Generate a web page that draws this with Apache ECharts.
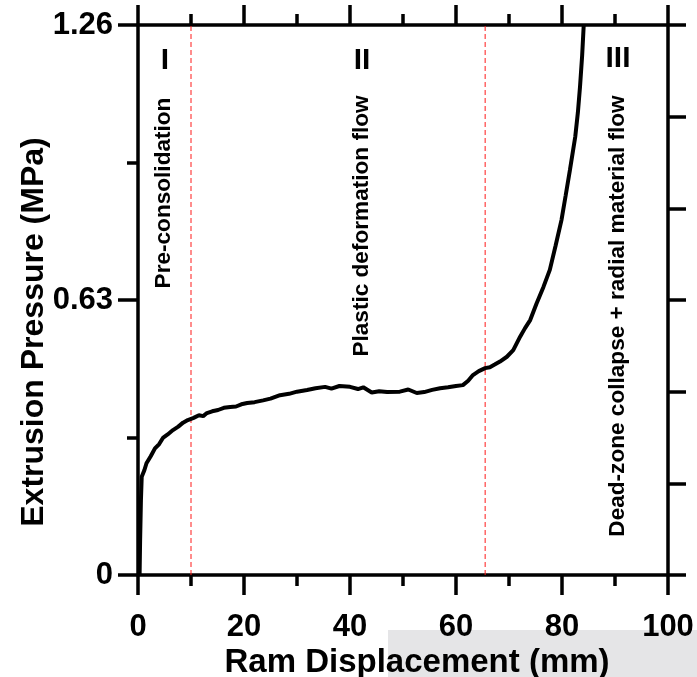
<!DOCTYPE html>
<html>
<head>
<meta charset="utf-8">
<script src="https://cdn.jsdelivr.net/npm/echarts@6/dist/echarts.min.js"></script>
<style>
  html, body { margin: 0; padding: 0; background: #fff; }
  #main { width: 697px; height: 677px; }
</style>
</head>
<body>
<div id="main"></div>
<script>
// ram displacement (mm)
var displacement = [0.3, 0.4, 0.55, 0.7, 1.2, 1.6, 2.4, 3.2, 4.0, 4.7, 5.6, 6.6, 7.6, 8.5, 9.4,
  10.5, 11.5, 12.3, 13, 14, 15.1, 16.2, 17.4, 18.5, 19.5, 20.6, 22, 23.6, 25, 26.8, 28.5, 30,
  31.9, 33.5, 35.3, 36.5, 38, 40, 41.5, 42.5, 44.1, 45.5, 47, 49.4, 51, 52.6, 54, 55.5, 57,
  58.5, 60, 61.3, 62.3, 63.2, 64.3, 65.5, 66.4, 67.3, 68.3, 69.6, 70.8, 72.1, 73, 74, 75.2,
  76.5, 77.7, 78.8, 79.9, 80.7, 81.5, 82.5, 83, 83.4, 83.8, 84.1];
// extrusion pressure (MPa)
var pressure = [0, 0.08, 0.17, 0.225, 0.24, 0.256, 0.272, 0.29, 0.30, 0.314, 0.322, 0.332, 0.34, 0.349, 0.355,
  0.36, 0.366, 0.364, 0.371, 0.375, 0.378, 0.383, 0.385, 0.386, 0.391, 0.394, 0.396, 0.40, 0.404, 0.412, 0.415, 0.42,
  0.424, 0.428, 0.431, 0.427, 0.433, 0.431, 0.426, 0.43, 0.418, 0.421, 0.419, 0.42, 0.425, 0.417, 0.419, 0.424, 0.428,
  0.43, 0.433, 0.435, 0.445, 0.458, 0.467, 0.474, 0.476, 0.482, 0.489, 0.5, 0.515, 0.546, 0.565, 0.584, 0.622,
  0.66, 0.699, 0.755, 0.813, 0.87, 0.928, 1.004, 1.06, 1.119, 1.19, 1.26];

// stage boundaries (mm)
var boundaries = [10, 65.5];
var stageNames = ['I', 'II', 'III'];
var stageTexts = ['Pre-consolidation', 'Plastic deformation flow', 'Dead-zone collapse + radial material flow'];

var xTicks = { min: 0, max: 100, interval: 20 };
var yTicks = { min: 0, max: 1.26, interval: 0.63 };

var font = 'Liberation Sans, Arial, sans-serif';
var axisCol = '#000';

var points = displacement.map(function (d, i) { return [d, pressure[i]]; });

var baseAxisLine = { show: true, onZero: false, lineStyle: { color: axisCol, width: 3.5 } };
var baseTick = { show: true, inside: false, length: 20, lineStyle: { color: axisCol, width: 3.5 } };
var baseMinor = { show: true, splitNumber: 2, length: 11, lineStyle: { color: axisCol, width: 3.5 } };

// red dashed stage boundaries, one small series each
var boundarySeries = boundaries.map(function (b) {
  return {
    type: 'line',
    data: [[b, yTicks.min], [b, yTicks.max]],
    showSymbol: false,
    silent: true,
    lineStyle: { color: '#ff1a1a', width: 1, type: [5, 3] },
    z: 3
  };
});

var option = {
  backgroundColor: '#fff',
  animation: false,
  grid: { left: 138, right: 29, top: 25, bottom: 102 },
  xAxis: [
    {
      type: 'value', position: 'bottom',
      min: xTicks.min, max: xTicks.max, interval: xTicks.interval,
      axisLine: baseAxisLine, axisTick: baseTick, minorTick: baseMinor,
      splitLine: { show: false },
      axisLabel: { fontSize: 31, fontWeight: 'bold', color: '#000', fontFamily: font, margin: 37 }
    },
    {
      type: 'value', position: 'top',
      min: xTicks.min, max: xTicks.max, interval: xTicks.interval,
      axisLine: baseAxisLine, axisTick: baseTick, minorTick: baseMinor,
      splitLine: { show: false }, axisLabel: { show: false }
    }
  ],
  yAxis: [
    {
      type: 'value', position: 'left',
      min: yTicks.min, max: yTicks.max, interval: yTicks.interval,
      axisLine: baseAxisLine, axisTick: baseTick, minorTick: baseMinor,
      splitLine: { show: false },
      axisLabel: {
        fontSize: 31, fontWeight: 'bold', color: '#000', fontFamily: font, margin: 25,
        formatter: function (v) { return v === 0 ? '0' : v.toFixed(2); }
      }
    },
    {
      type: 'value', position: 'right',
      min: 0, max: 1.26, interval: 0.21,
      axisLine: baseAxisLine, axisTick: { show: true, length: 18, lineStyle: { color: axisCol, width: 3.5 } },
      splitLine: { show: false }, axisLabel: { show: false }
    }
  ],
  graphic: [
    { type: 'rect', left: 388, top: 630, shape: { width: 309, height: 47 }, style: { fill: '#e5e5e7' }, z: -10 },
    { type: 'text', x: 417, y: 663, style: { text: 'Ram Displacement (mm)', font: 'bold 33px ' + font, fill: '#000', align: 'center', verticalAlign: 'middle' } },
    { type: 'text', x: 34, y: 332, rotation: Math.PI / 2, style: { text: 'Extrusion Pressure (MPa)', font: 'bold 32px ' + font, fill: '#000', align: 'center', verticalAlign: 'middle' } },
    { type: 'text', x: 165, y: 61, style: { text: stageNames[0], font: 'bold 30px ' + font, fill: '#000', align: 'center', verticalAlign: 'middle' } },
    { type: 'text', x: 362, y: 61, style: { text: stageNames[1], font: 'bold 30px ' + font, fill: '#000', align: 'center', verticalAlign: 'middle' } },
    { type: 'text', x: 618, y: 59, style: { text: stageNames[2], font: 'bold 30px ' + font, fill: '#000', align: 'center', verticalAlign: 'middle' } },
    { type: 'text', x: 164, y: 193, rotation: Math.PI / 2, style: { text: stageTexts[0], font: 'bold 22.6px ' + font, fill: '#000', align: 'center', verticalAlign: 'middle' } },
    { type: 'text', x: 362, y: 226, rotation: Math.PI / 2, style: { text: stageTexts[1], font: 'bold 22.6px ' + font, fill: '#000', align: 'center', verticalAlign: 'middle' } },
    { type: 'text', x: 618, y: 316, rotation: Math.PI / 2, style: { text: stageTexts[2], font: 'bold 22.6px ' + font, fill: '#000', align: 'center', verticalAlign: 'middle' } }
  ],
  series: boundarySeries.concat([
    {
      type: 'line',
      data: points,
      showSymbol: false,
      smooth: false,
      lineStyle: { color: '#000', width: 4 },
      z: 5
    }
  ])
};

var chart = echarts.init(document.getElementById('main'), null, { renderer: 'canvas' });
chart.setOption(option);
</script>
</body>
</html>
